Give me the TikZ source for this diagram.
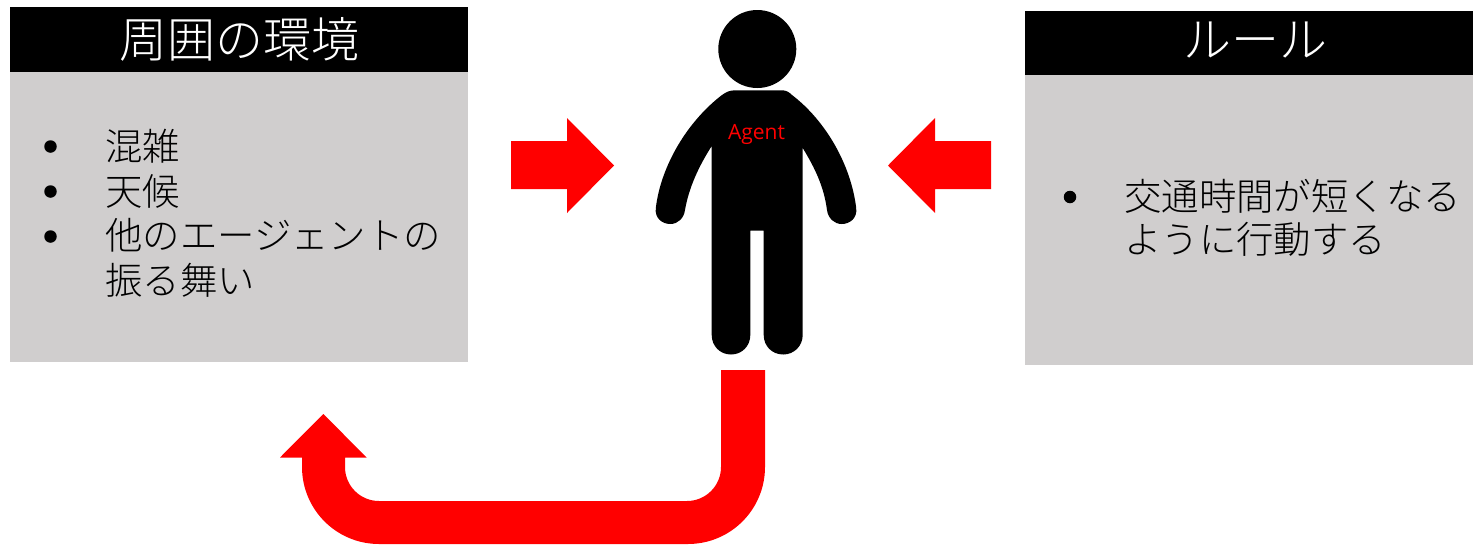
\documentclass[tikz,border=0pt]{standalone}
\usepackage{fontspec}
\setmainfont{Open Sans}
\newfontfamily\jp{Noto Sans CJK JP Light}
\definecolor{boxgray}{HTML}{D0CECE}
\tikzset{
  x=1pt,y=-1pt,
  header/.style={fill=black,draw=none},
  panel/.style={fill=boxgray,draw=none},
  headtext/.style={text=white,inner sep=0pt,font=\jp\fontsize{48}{48}\selectfont},
  bodytext/.style={text=black,inner sep=0pt,anchor=west,font=\jp\fontsize{37.4}{45}\selectfont},
  bulletdot/.style={circle,fill=black,inner sep=0pt,minimum size=12.5pt},
  blockarrow/.style={fill=red,draw=none},
}
\begin{document}
\begin{tikzpicture}
\useasboundingbox (0,0) rectangle (1473,544);
% left panel
\fill[panel] (10,72) rectangle (468,362);
\fill[header] (10,7) rectangle (468,72);
\node[headtext] (envtitle) at (239,39) {周囲の環境};
\node[bulletdot] (b1) at (50.5,146.5) {};
\node[bulletdot] (b2) at (50.5,191.5) {};
\node[bulletdot] (b3) at (50.5,236.5) {};
\node[bodytext] (t1) at (105,146.5) {混雑};
\node[bodytext] (t2) at (105,191) {天候};
\node[bodytext] (t3) at (105,235.5) {他のエージェントの};
\node[bodytext] (t4) at (105,280.5) {振る舞い};
% right panel
\fill[panel] (1025,75) rectangle (1473,365);
\fill[header] (1025,11) rectangle (1473,75);
\node[headtext] (ruletitle) at (1255,40.5) {ルール};
\node[bulletdot] (b5) at (1070,197) {};
\node[bodytext] (t5) at (1124,196.5) {交通時間が短くなる};
\node[bodytext] (t6) at (1124,239.5) {ように行動する};
% person
\fill[black] (757.3,49) circle (39);
\fill[black]
  (735,90.3) -- (782,90.3)
  .. controls (786,90.3) and (789,92) .. (792,95)
  .. controls (826,121) and (851,165) .. (856.2,208)
  .. controls (857.5,218) and (850,224) .. (841.7,224)
  .. controls (834,224) and (828,218) .. (827,210)
  .. controls (824,187) and (815,168) .. (802.7,148)
  -- (802.7,335)
  .. controls (802.7,346) and (794,354.5) .. (783.2,354.5)
  .. controls (772,354.5) and (763.7,346) .. (763.7,335)
  -- (763.7,230.7) -- (750.3,230.7) -- (750.3,335)
  .. controls (750.3,346) and (742,354.5) .. (731,354.5)
  .. controls (720,354.5) and (711.7,346) .. (711.7,335)
  -- (711.7,146)
  .. controls (699,166) and (689,187) .. (685,210)
  .. controls (684,218) and (678,224) .. (670.3,224)
  .. controls (662,224) and (654.5,218) .. (655.8,208)
  .. controls (661,165) and (688,121) .. (722,95)
  .. controls (726,92) and (730,90.3) .. (735,90.3) -- cycle;
\node[text=red,inner sep=0pt,font=\fontsize{21}{21}\selectfont] (agent) at (756.5,134) {Agent};
% arrows
\fill[blockarrow] (511,141) -- (567,141) -- (567,118) -- (614,165.5) -- (567,213) -- (567,189) -- (511,189) -- cycle;
\fill[blockarrow] (991,141) -- (935,141) -- (935,118) -- (888,165.5) -- (935,213) -- (935,189) -- (991,189) -- cycle;
\fill[blockarrow] (765,370) -- (765,467) arc[start angle=0,end angle=90,radius=77] -- (379,544)
  arc[start angle=90,end angle=180,radius=77] -- (302,457.5) -- (280,457.5) -- (323.3,414) -- (366.7,457.5) -- (345,457.5) -- (345,467)
  arc[start angle=180,end angle=90,radius=34] -- (687,501)
  arc[start angle=90,end angle=0,radius=34] -- (721,370) -- cycle;
\end{tikzpicture}
\end{document}
